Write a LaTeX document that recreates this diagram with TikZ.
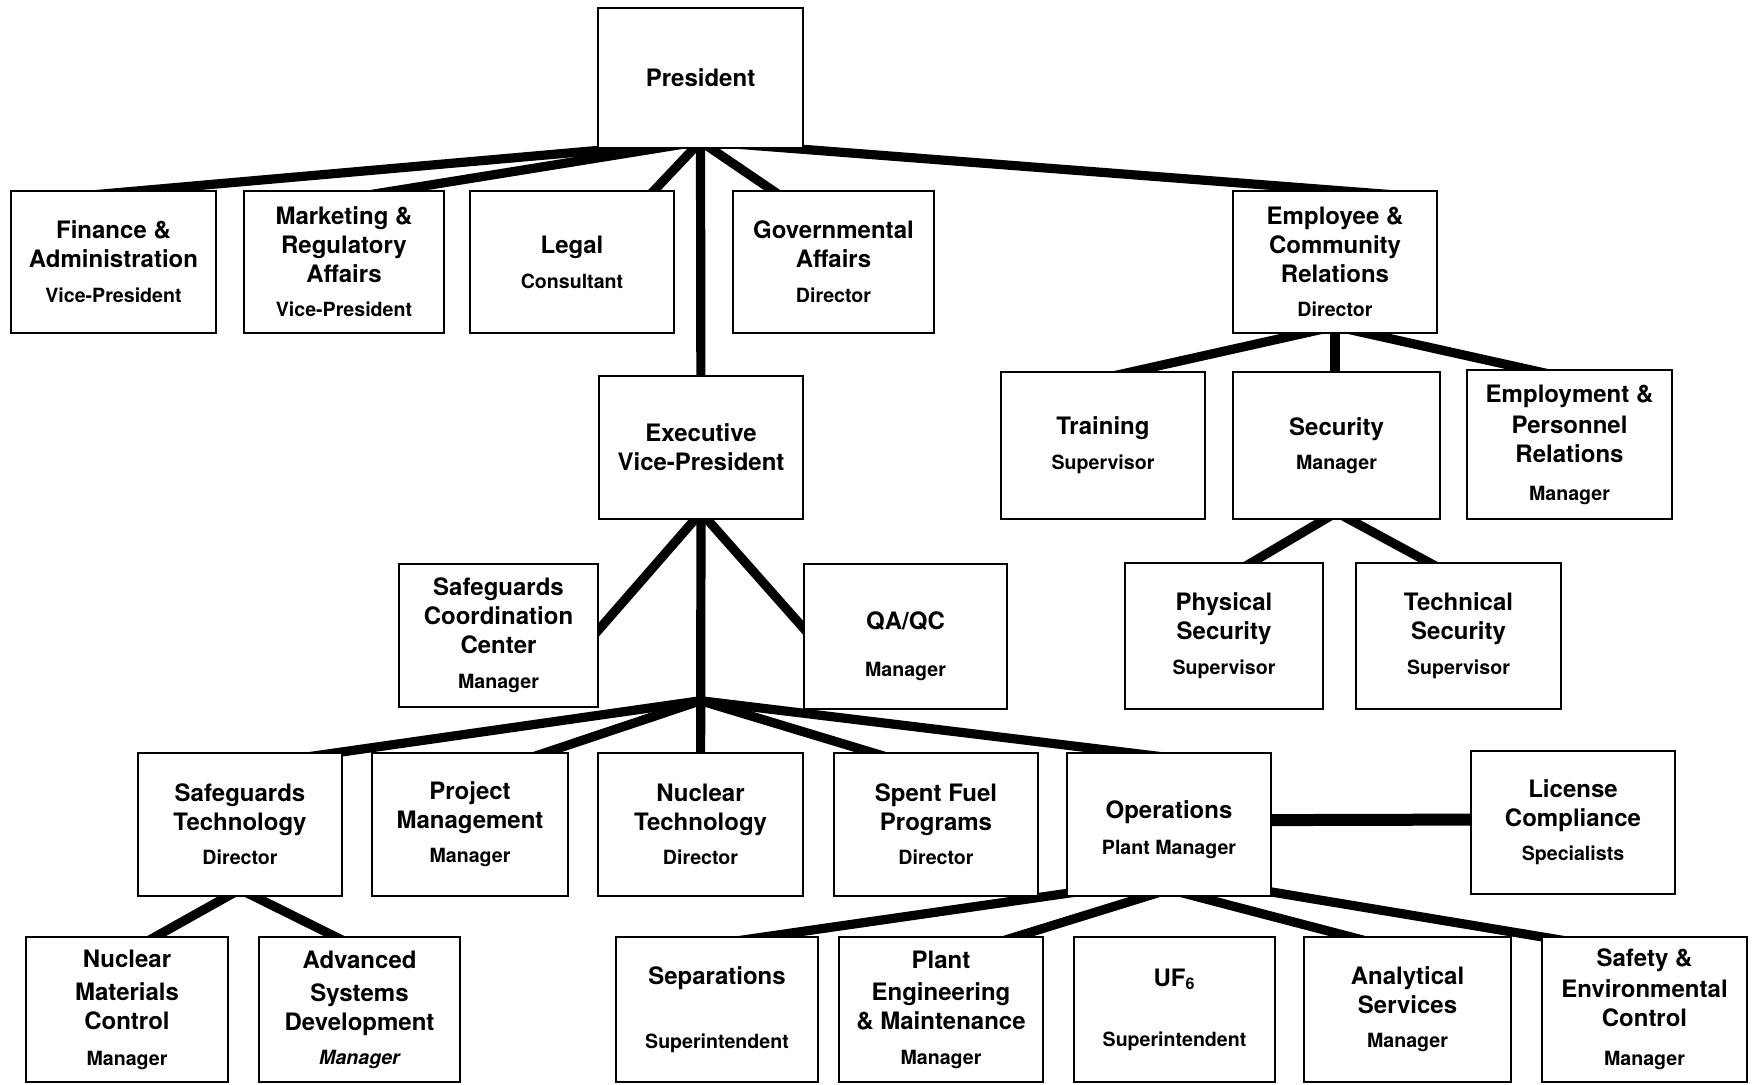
\documentclass[tikz,border=0pt]{standalone}
\usepackage{fontspec}
\setmainfont{TeX Gyre Heros}
\usetikzlibrary{calc}
\pgfdeclarelayer{bg}
\pgfsetlayers{bg,main}
\newcommand\Tf{\fontsize{12}{14.5}\selectfont}
\newcommand\Sf{\fontsize{9.8}{14.5}\selectfont}
\newcommand\ob[6]{\node[orgbox, minimum width=#4pt, minimum height=#5pt] (#1) at (#2,#3) {#6};}
\begin{document}
\begin{tikzpicture}[x=0.5pt,y=-0.5pt,
  orgbox/.style={draw, line width=1.4pt, fill=white, inner sep=0pt, align=center, font=\Tf\bfseries},
  conn/.style={line width=4.6pt},
  thickconn/.style={line width=6pt}]
\useasboundingbox (0,0) rectangle (1758,1085);
% boxes
\ob{pres}{700.5}{78}{102.5}{70}{President}
\ob{fin}{113.5}{262}{102.5}{71}{Finance \&\\Administration\\[3pt]\Sf Vice-President}
\ob{mkt}{344}{262}{100}{71}{Marketing \&\\Regulatory\\Affairs\\[2.5pt]\Sf Vice-President}
\ob{legal}{572}{262}{102}{71}{Legal\\[3pt]\Sf Consultant}
\ob{gov}{833.5}{262}{100.5}{71}{Governmental\\Affairs\\[3pt]\Sf Director}
\ob{emp}{1335}{262}{102}{71}{Employee \&\\Community\\Relations\\[2.5pt]\Sf Director}
\ob{evp}{701}{447.5}{102}{71.5}{Executive\\Vice-President}
\ob{train}{1103}{445.5}{102}{73.5}{Training\\[3pt]\Sf Supervisor}
\ob{sec}{1336.5}{445.5}{103.5}{73.5}{Security\\[2.5pt]\Sf Manager}
\ob{empl}{1569.5}{444.5}{102.5}{74.5}{Employment \&\\[1pt]Personnel\\Relations\\[4.5pt]\Sf Manager}
\ob{sgcc}{498.5}{635.5}{99.5}{71.5}{Safeguards\\Coordination\\Center\\[3pt]\Sf Manager}
\ob{qaqc}{905.5}{636.5}{101.5}{72.5}{\rule{0pt}{19pt}QA/QC\\[9pt]\Sf Manager}
\ob{phys}{1224}{636}{99}{73}{Physical\\Security\\[3pt]\Sf Supervisor}
\ob{tech}{1458.5}{636}{102.5}{73}{Technical\\Security\\[3pt]\Sf Supervisor}
\ob{sgt}{240}{824.5}{102}{71.5}{Safeguards\\Technology\\[2.5pt]\Sf Director}
\ob{pm}{470}{824.5}{98}{71.5}{Project\\Management\\[2.5pt]\Sf Manager}
\ob{nt}{700.5}{824.5}{102.5}{71.5}{Nuclear\\Technology\\[2.5pt]\Sf Director}
\ob{sf}{936}{824.5}{102}{71.5}{Spent Fuel\\Programs\\[2.5pt]\Sf Director}
\ob{ops}{1169}{824.5}{102}{71.5}{\rule{0pt}{14pt}Operations\\[3.5pt]\Sf Plant Manager}
\ob{lic}{1573}{822.5}{102}{71.5}{License\\Compliance\\[2.5pt]\Sf Specialists}
\ob{nmc}{127}{1009.5}{101}{72.5}{Nuclear\\[2pt]Materials\\Control\\[3.5pt]\Sf Manager}
\ob{asd}{359.5}{1009.5}{100.5}{72.5}{Advanced\\[2pt]Systems\\Development\\[2.5pt]\Sf\itshape Manager}
\ob{sep}{717}{1009.5}{101}{72.5}{Separations\\[17.5pt]\Sf Superintendent}
\ob{pem}{941}{1009.5}{102}{72.5}{Plant\\[1.5pt]Engineering\\\& Maintenance\\[3pt]\Sf Manager}
\ob{uf6}{1174.5}{1009.5}{100.5}{72.5}{UF\textsubscript{6}\\[15.5pt]\Sf Superintendent}
\ob{ana}{1407.5}{1009.5}{103.5}{72.5}{Analytical\\Services\\[2.5pt]\Sf Manager}
\ob{saf}{1644.5}{1009.5}{102.5}{72.5}{Safety \&\\[1pt]Environmental\\Control\\[5pt]\Sf Manager}
% hub coordinates
\coordinate (hubA) at ($(pres.south)+(0,-8)$);
\coordinate (hubB) at ($(evp.south)!0.78!(nt.north)$);
\coordinate (hubC) at ($(emp.south)+(0,-8)$);
\coordinate (hubD) at ($(sec.south)+(0,-8)$);
\coordinate (hubE) at ($(sgt.south)+(0,-8)$);
\coordinate (hubF) at ($(evp.south)+(0,-8)$);
\coordinate (hubG) at ($(ops.south)+(0,-8)$);
% connectors
\begin{pgfonlayer}{bg}
\draw[conn] (hubA) -- ($(fin.north west)!0.36!(fin.north east)+(0,6)$);
\draw[conn] (hubA) -- ($(mkt.north west)!0.6!(mkt.north east)+(0,6)$);
\draw[conn] (hubA) -- ($(legal.north west)!0.86!(legal.north east)+(0,9)$);
\draw[conn] (hubA) -- ($(gov.north west)!0.26!(gov.north east)+(0,9)$);
\draw[conn] (hubA) -- ($(emp.north west)!0.83!(emp.north east)+(0,6)$);
\draw[conn] (hubA) -- (evp.center);
\draw[conn] (hubC) -- ($(train.north west)!0.47!(train.north east)+(0,9)$);
\draw[conn] (hubC) -- (hubC |- sec.center);
\draw[conn] (hubC) -- ($(empl.north west)!0.48!(empl.north east)+(0,9)$);
\draw[conn] (hubD) -- ($(phys.north west)!0.57!(phys.north east)+(0,9)$);
\draw[conn] (hubD) -- ($(tech.north west)!0.43!(tech.north east)+(0,9)$);
\draw[conn] (hubF) -- ($(sgcc.north east)!0.51!(sgcc.south east)+(-7,0)$);
\draw[conn] (hubF) -- ($(qaqc.north west)!0.49!(qaqc.south west)+(7,0)$);
\draw[conn] (hubF) -- (nt.center);
\draw[conn] (hubB) -- ($(sgt.north west)!0.7!(sgt.north east)+(0,9)$);
\draw[conn] (hubB) -- ($(pm.north west)!0.76!(pm.north east)+(0,9)$);
\draw[conn] (hubB) -- ($(sf.north west)!0.32!(sf.north east)+(0,9)$);
\draw[conn] (hubB) -- ($(ops.north west)!0.62!(ops.north east)+(0,9)$);
\draw[conn] (hubE) -- ($(nmc.north west)!0.57!(nmc.north east)+(0,9)$);
\draw[conn] (hubE) -- ($(asd.north west)!0.46!(asd.north east)+(0,9)$);
\draw[conn] ($(ops.south west)!0.14!(ops.south east)+(0,-8)$) -- ($(sep.north west)!0.47!(sep.north east)+(0,9)$);
\draw[conn] (hubG) -- ($(pem.north west)!0.74!(pem.north east)+(0,9)$);
\draw[conn] (hubG) -- ($(ana.north west)!0.37!(ana.north east)+(0,9)$);
\draw[conn] ($(ops.south west)!0.92!(ops.south east)+(0,-8)$) -- ($(saf.north west)!0.23!(saf.north east)+(0,9)$);
\draw[thickconn] ($(ops.north east)!0.47!(ops.south east)+(-8,0)$) -- ($(lic.north west)!0.48!(lic.south west)+(8,0)$);
\end{pgfonlayer}
\end{tikzpicture}
\end{document}
